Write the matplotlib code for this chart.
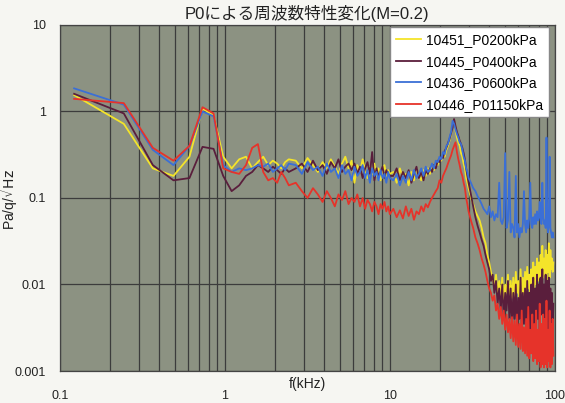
import matplotlib.pyplot as plt
from matplotlib.ticker import LogLocator, FixedLocator, NullFormatter

plt.rcParams['font.family'] = ['Liberation Sans', 'Noto Sans CJK JP', 'DejaVu Sans']

# frequency (kHz) shared by all runs
f_khz = [0.122, 0.244, 0.366, 0.488, 0.610, 0.732, 0.854, 0.977, 1.099, 1.221,
         1.343, 1.464, 1.586, 1.708, 1.831, 1.953, 2.075, 2.197, 2.319, 2.441,
         2.69, 2.93, 3.17, 3.42, 3.66, 3.91, 4.15, 4.39, 4.64, 4.88,
         5.13, 5.37, 5.62, 5.86, 6.10, 6.35, 6.59, 6.84, 7.08, 7.32,
         7.57, 7.81, 8.06, 8.30, 8.54, 8.79, 9.03, 9.28, 9.52, 9.77, 10.0,
         10.5, 11, 11.5, 12, 12.5, 13, 13.5, 14, 14.5, 15,
         15.5, 16, 16.5, 17, 17.5, 18, 18.5, 19, 19.5, 20,
         20.5, 21, 21.5, 22, 22.5, 23, 23.5, 24, 24.5, 25,
         25.5, 26, 26.5, 27, 27.5, 28, 28.5, 29, 29.5, 30,
         31, 32, 33, 34, 35,
         36, 37, 38, 39, 40, 41, 42, 43, 44, 45,
         46, 47, 48, 49, 50, 51, 52, 53, 54, 55,
         56, 57, 58, 59, 60, 61, 62, 63, 64, 65,
         66, 67, 68, 69, 70, 71, 72, 73, 74, 75,
         76, 77, 78, 79, 80, 81, 82, 83, 84, 85,
         86, 87, 88, 89, 90, 91, 92, 93, 94, 95,
         96, 97, 98]

p0200 = [1.55, 0.72, 0.22, 0.18, 0.30, 1.08, 0.90, 0.30, 0.22, 0.28,
         0.30, 0.22, 0.26, 0.30, 0.24, 0.27, 0.25, 0.22, 0.26, 0.28,
         0.27, 0.22, 0.29, 0.24, 0.20, 0.26, 0.22, 0.28, 0.23, 0.19,
         0.25, 0.30, 0.22, 0.27, 0.15, 0.24, 0.20, 0.28, 0.21, 0.17,
         0.23, 0.19, 0.25, 0.18, 0.22, 0.16, 0.20, 0.24, 0.18, 0.21, 0.19,
         0.20, 0.15, 0.22, 0.17, 0.19, 0.14, 0.20, 0.16, 0.22, 0.18,
         0.16, 0.21, 0.18, 0.22, 0.19, 0.23, 0.21, 0.25, 0.24, 0.28,
         0.27, 0.32, 0.30, 0.36, 0.40, 0.46, 0.55, 0.70, 0.74, 0.60,
         0.50, 0.44, 0.40, 0.33, 0.30, 0.25, 0.22, 0.17, 0.15, 0.13,
         0.10, 0.085, 0.07, 0.062, 0.055,
         0.045, 0.035, 0.03, 0.022, 0.018, 0.014, 0.012, 0.009, 0.013, 0.008,
         0.011, 0.007, 0.012, 0.006, 0.01, 0.008, 0.013, 0.006, 0.011, 0.007,
         0.012, 0.006, 0.014, 0.008, 0.011, 0.006, 0.015, 0.008, 0.012, 0.007,
         0.014, 0.008, 0.016, 0.009, 0.013, 0.007, 0.015, 0.01, 0.018, 0.009,
         0.016, 0.01, 0.02, 0.011, 0.018, 0.012, 0.022, 0.013, 0.028, 0.012,
         0.02, 0.013, 0.025, 0.011, 0.022, 0.014, 0.03, 0.012, 0.025, 0.015,
         0.02, 0.014, 0.018]

p0400 = [1.6, 0.95, 0.24, 0.16, 0.17, 0.39, 0.37, 0.18, 0.12, 0.14,
         0.18, 0.20, 0.24, 0.22, 0.20, 0.23, 0.21, 0.19, 0.22, 0.20,
         0.22, 0.25, 0.20, 0.27, 0.21, 0.24, 0.19, 0.26, 0.22, 0.28,
         0.20, 0.23, 0.25, 0.21, 0.25, 0.19, 0.23, 0.17, 0.22, 0.26,
         0.19, 0.34, 0.16, 0.22, 0.18, 0.20, 0.23, 0.17, 0.21, 0.19, 0.18,
         0.18, 0.22, 0.16, 0.20, 0.17, 0.21, 0.15, 0.19, 0.23, 0.17,
         0.20, 0.16, 0.21, 0.19, 0.22, 0.20, 0.24, 0.22, 0.27, 0.26,
         0.30, 0.29, 0.35, 0.38, 0.43, 0.48, 0.56, 0.65, 0.82, 0.68,
         0.58, 0.52, 0.46, 0.42, 0.38, 0.33, 0.28, 0.22, 0.18, 0.15,
         0.11, 0.08, 0.06, 0.048, 0.04,
         0.033, 0.028, 0.022, 0.018, 0.015, 0.011, 0.013, 0.008, 0.011, 0.006,
         0.009, 0.005, 0.01, 0.004, 0.008, 0.005, 0.011, 0.004, 0.009, 0.003,
         0.008, 0.004, 0.01, 0.003, 0.007, 0.004, 0.012, 0.003, 0.008, 0.0035,
         0.009, 0.003, 0.011, 0.004, 0.008, 0.0025, 0.01, 0.004, 0.012, 0.003,
         0.009, 0.0035, 0.013, 0.004, 0.01, 0.003, 0.012, 0.0045, 0.015, 0.003,
         0.01, 0.004, 0.013, 0.003, 0.011, 0.0025, 0.012, 0.004, 0.009, 0.002,
         0.008, 0.003, 0.006]

p0600 = [1.85, 1.2, 0.36, 0.24, 0.40, 1.0, 0.88, 0.24, 0.20, 0.22,
         0.21, 0.22, 0.24, 0.23, 0.25, 0.20, 0.22, 0.24, 0.21, 0.25,
         0.24, 0.19, 0.26, 0.21, 0.23, 0.18, 0.25, 0.20, 0.22, 0.17,
         0.24, 0.19, 0.21, 0.16, 0.23, 0.18, 0.20, 0.24, 0.17, 0.21,
         0.15, 0.22, 0.18, 0.20, 0.16, 0.21, 0.17, 0.19, 0.15, 0.20, 0.17,
         0.16, 0.19, 0.14, 0.18, 0.15, 0.20, 0.16, 0.21, 0.17, 0.19,
         0.22, 0.18, 0.23, 0.20, 0.21, 0.25, 0.22, 0.27, 0.26, 0.30,
         0.28, 0.34, 0.32, 0.40, 0.42, 0.50, 0.58, 0.78, 0.72, 0.62,
         0.55, 0.50, 0.44, 0.42, 0.36, 0.30, 0.27, 0.22, 0.20, 0.17,
         0.15, 0.13, 0.12, 0.105, 0.095,
         0.085, 0.075, 0.07, 0.065, 0.08, 0.06, 0.07, 0.055, 0.065, 0.06,
         0.15, 0.055, 0.05, 0.06, 0.33, 0.045, 0.055, 0.2, 0.04, 0.05,
         0.045, 0.035, 0.18, 0.04, 0.05, 0.035, 0.045, 0.04, 0.05, 0.12,
         0.05, 0.04, 0.055, 0.045, 0.06, 0.15, 0.05, 0.045, 0.06, 0.05,
         0.065, 0.05, 0.07, 0.055, 0.06, 0.09, 0.055, 0.05, 0.15, 0.06,
         0.05, 0.055, 0.045, 0.5, 0.05, 0.04, 0.05, 0.3, 0.045, 0.04,
         0.035, 0.04, 0.035]

p1150 = [1.4, 1.25, 0.38, 0.27, 0.40, 1.12, 0.95, 0.22, 0.20, 0.19,
         0.24, 0.38, 0.42, 0.20, 0.16, 0.17, 0.15, 0.20, 0.17, 0.14,
         0.15, 0.12, 0.10, 0.13, 0.11, 0.09, 0.12, 0.10, 0.08, 0.11,
         0.095, 0.12, 0.085, 0.10, 0.09, 0.11, 0.08, 0.10, 0.075, 0.095,
         0.085, 0.07, 0.09, 0.08, 0.065, 0.085, 0.075, 0.09, 0.07, 0.08, 0.065,
         0.075, 0.06, 0.072, 0.058, 0.08, 0.062, 0.075, 0.056, 0.07, 0.065,
         0.08, 0.07, 0.085, 0.078, 0.09, 0.10, 0.11, 0.12, 0.13, 0.16,
         0.15, 0.18, 0.20, 0.22, 0.25, 0.28, 0.31, 0.36, 0.40, 0.44,
         0.34, 0.28, 0.24, 0.20, 0.18, 0.15, 0.13, 0.10, 0.085, 0.07,
         0.055, 0.045, 0.035, 0.03, 0.025,
         0.02, 0.017, 0.014, 0.011, 0.009, 0.008, 0.0065, 0.0075, 0.005, 0.006,
         0.004, 0.0055, 0.0035, 0.005, 0.003, 0.0045, 0.0028, 0.004, 0.0024, 0.0042,
         0.0022, 0.0038, 0.002, 0.0045, 0.0019, 0.0035, 0.0018, 0.005, 0.0017, 0.0032,
         0.0016, 0.004, 0.0015, 0.0055, 0.0014, 0.003, 0.0016, 0.0045, 0.0013, 0.0035,
         0.0014, 0.005, 0.0012, 0.003, 0.0013, 0.006, 0.0011, 0.0035, 0.0012, 0.0045,
         0.0011, 0.004, 0.0012, 0.0065, 0.0011, 0.003, 0.0013, 0.005, 0.0011, 0.0035,
         0.0012, 0.004, 0.0015]

labels = ['10451_P0200kPa', '10445_P0400kPa', '10436_P0600kPa', '10446_P01150kPa']
colors = ['#f4e42a', '#5a1e3c', '#3b6fd6', '#e6332a']

fig = plt.figure(figsize=(5.65, 4.03), dpi=100, facecolor='#f6f6f2')
ax = fig.add_axes([0.106, 0.0794, 0.876, 0.8586])
ax.set_facecolor('#8c9282')

for vals, lab, c in zip([p0200, p0400, p0600, p1150], labels, colors):
    ax.plot(f_khz, vals, color=c, lw=1.3, label=lab)

ax.set_xscale('log')
ax.set_yscale('log')
ax.set_xlim(0.1, 100)
ax.set_ylim(0.001, 10)

ax.xaxis.set_major_locator(FixedLocator([0.1, 1, 10, 100]))
ax.xaxis.set_minor_locator(LogLocator(base=10, subs=range(2, 10)))
ax.xaxis.set_minor_formatter(NullFormatter())
ax.yaxis.set_major_locator(FixedLocator([0.001, 0.01, 0.1, 1, 10]))
ax.yaxis.set_minor_locator(FixedLocator([]))
ax.set_xticklabels(['0.1', '1', '10', '100'])
ax.set_yticklabels(['0.001', '0.01', '0.1', '1', '10'])
ax.tick_params(which='both', length=0, labelsize=9, colors='#222222')
ax.tick_params(axis='x', pad=14)
ax.tick_params(axis='y', pad=10)

ax.grid(True, which='major', axis='both', color='#3c3c3c', lw=0.9)
ax.grid(True, which='minor', axis='x', color='#3c3c3c', lw=0.9)
ax.set_axisbelow(True)
for s in ax.spines.values():
    s.set_color('#444444')
    s.set_linewidth(0.9)

ax.set_title('P0による周波数特性変化(M=0.2)', fontsize=12, pad=4, color='#222222')
ax.set_ylabel(r'Pa/q/$\sqrt{\mathrm{Hz}}$', fontsize=10, color='#222222')
ax.yaxis.set_label_coords(-0.08, 0.5)
ax.set_xlabel('f(kHz)', fontsize=10, color='#222222')
ax.xaxis.set_label_coords(0.5, -0.017)

leg = ax.legend(loc='upper right', bbox_to_anchor=(0.988, 0.993), borderaxespad=0,
                fontsize=10, frameon=True, fancybox=False, handlelength=1.8,
                handletextpad=0.4, labelspacing=0.55, borderpad=0.4)
leg.get_frame().set_facecolor('white')
leg.get_frame().set_edgecolor('#888888')
leg.get_frame().set_alpha(1)

fig.savefig('out.png', dpi=100, facecolor=fig.get_facecolor())
